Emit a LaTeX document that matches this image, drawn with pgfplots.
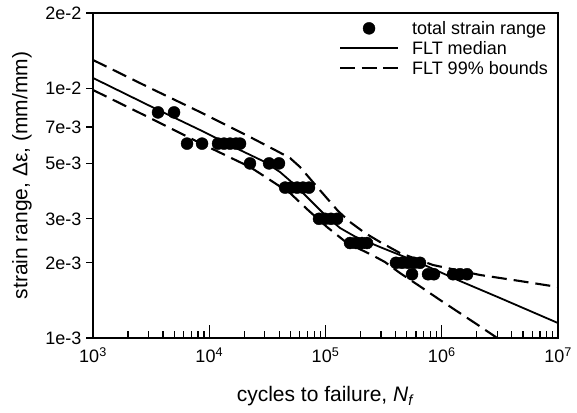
\documentclass[border=0pt]{standalone}
\usepackage{fontspec}
\setmainfont{Liberation Sans}
\usepackage{pgfplots}
\pgfplotsset{compat=1.18}
\newcommand{\tickfont}{\fontsize{18}{20}\selectfont}
\newcommand{\labfont}{\fontsize{21}{24}\selectfont}
\pgfplotsset{
  marklegend/.style={legend image code/.code={\draw[mark repeat=2,mark phase=2,##1] plot coordinates {(0pt,0pt) (29pt,0pt) (58pt,0pt)};}},
  linelegend/.style={legend image code/.code={\draw[##1] (0pt,0pt) -- (58pt,0pt);}},
  dashlegend/.style={legend image code/.code={\draw[##1, dash pattern=on 15pt off 6.5pt] (0pt,0pt) -- (58pt,0pt);}},
}
\begin{document}
\begin{tikzpicture}
\useasboundingbox (-93pt,-74pt) rectangle (484pt,338pt);
\begin{axis}[
  at={(0pt,0pt)}, anchor=south west,
  scale only axis, width=465pt, height=325pt,
  xmode=log, ymode=log,
  xmin=1e3, xmax=1e7, ymin=1e-3, ymax=2e-2,
  axis line style={line width=1.5pt, black},
  xtick={1e3,1e4,1e5,1e6,1e7},
  xticklabels={10\textsuperscript{3},10\textsuperscript{4},10\textsuperscript{5},10\textsuperscript{6},10\textsuperscript{7}},
  xminorticks=true,
  minor xtick={2e3,3e3,4e3,5e3,6e3,7e3,8e3,9e3,2e4,3e4,4e4,5e4,6e4,7e4,8e4,9e4,2e5,3e5,4e5,5e5,6e5,7e5,8e5,9e5,2e6,3e6,4e6,5e6,6e6,7e6,8e6,9e6},
  xtick pos=bottom, xtick align=inside,
  major tick length=13pt, minor tick length=7pt,
  tick style={line width=1.2pt, black},
  ytick=\empty, yminorticks=false,
  xticklabel style={font=\tickfont, yshift=-6pt},
  xlabel={cycles to failure, \textit{N}\textsubscript{\textit{f}}},
  xlabel style={font=\labfont, at={(axis description cs:0.5,-0.18)}, anchor=center},
  legend style={draw=none, fill=none, font=\tickfont, at={(axis description cs:0.985,0.985)}, anchor=north east, row sep=1.5pt, column sep=11pt, inner sep=1pt, nodes={inner sep=2pt}},
  legend cell align=left,
  clip=true,
]
\addplot[only marks, mark=*, mark size=6pt, black, fill=black, marklegend]
coordinates {
(3625,8e-3) (4980,8e-3)
(6440,6e-3) (8670,6e-3) (11900,6e-3) (13400,6e-3) (15100,6e-3) (17000,6e-3) (18400,6e-3)
(22400,5e-3) (32700,5e-3) (39800,5e-3)
(44900,4e-3) (50500,4e-3) (56900,4e-3) (64000,4e-3) (72100,4e-3)
(87900,3e-3) (99000,3e-3) (111500,3e-3) (125600,3e-3)
(162600,2.4e-3) (183000,2.4e-3) (206000,2.4e-3) (227600,2.4e-3)
(403600,2e-3) (454700,2e-3) (512300,2e-3) (577000,2e-3) (650000,2e-3)
(555000,1.8e-3) (762000,1.8e-3) (857000,1.8e-3) (1250000,1.8e-3) (1435000,1.8e-3) (1650000,1.8e-3)
};
\addlegendentry{total strain range}
\addplot[black, line width=1.8pt, no marks, linelegend]
coordinates {
(1000,0.01099) (3093,8.487e-3) (8325,6.804e-3) (18390,5.656e-3) (30170,5.064e-3)
(40610,4.618e-3) (54650,4.097e-3) (73580,3.568e-3) (99010,3.108e-3) (133200,2.757e-3)
(179400,2.548e-3) (294300,2.313e-3) (650000,1.996e-3) (1436000,1.691e-3) (3171000,1.446e-3) (1e7,1.148e-3)
};
\addlegendentry{FLT median}
\addplot[black, line width=2.1pt, no marks, dash pattern=on 15pt off 7pt, dashlegend]
coordinates {
(1000,0.01297) (3093,0.010018) (8325,8.03e-3) (22410,6.378e-3) (36790,5.656e-3)
(49510,5.254e-3) (60350,4.837e-3) (76550,4.251e-3) (99010,3.702e-3) (128100,3.225e-3)
(162500,2.913e-3) (218700,2.632e-3) (294300,2.423e-3) (437400,2.189e-3) (840800,1.960e-3)
(2133000,1.788e-3) (4712000,1.691e-3) (1e7,1.600e-3)
};
\addlegendentry{FLT 99\% bounds}
\addplot[black, line width=2.1pt, no marks, dash pattern=on 15pt off 7pt, forget plot]
coordinates {
(1000,9.835e-3) (3093,7.6e-3) (8325,6.035e-3) (22410,4.837e-3) (31400,4.37e-3)
(49510,3.806e-3) (70710,3.254e-3) (103000,2.782e-3) (153100,2.401e-3) (251200,2.149e-3)
(324900,2.014e-3) (437400,1.820e-3) (624600,1.630e-3) (966000,1.42e-3) (2050000,1.127e-3)
(3000000,1e-3) (4710000,8.68e-4)
};
\end{axis}
\begin{axis}[
  at={(0pt,0pt)}, anchor=south west,
  scale only axis, width=465pt, height=325pt,
  xmode=log, ymode=log,
  xmin=1e3, xmax=1e7, ymin=1e-3, ymax=2e-2,
  hide x axis,
  y axis line style={draw=none},
  ytick={1e-3,2e-3,3e-3,5e-3,7e-3,1e-2,2e-2},
  yticklabels={1e-3,2e-3,3e-3,5e-3,7e-3,1e-2,2e-2},
  yminorticks=false,
  ytick pos=left, ytick align=outside,
  major tick length=7pt,
  tick style={line width=1.2pt, black},
  yticklabel style={font=\tickfont, xshift=-1pt},
  ylabel={strain range, Δε, (mm/mm)},
  ylabel style={font=\labfont, at={(axis description cs:-0.153,0.5)}, anchor=center},
]
\addplot[draw=none, forget plot] coordinates {(1e3,1e-3)};
\end{axis}
\end{tikzpicture}
\end{document}
